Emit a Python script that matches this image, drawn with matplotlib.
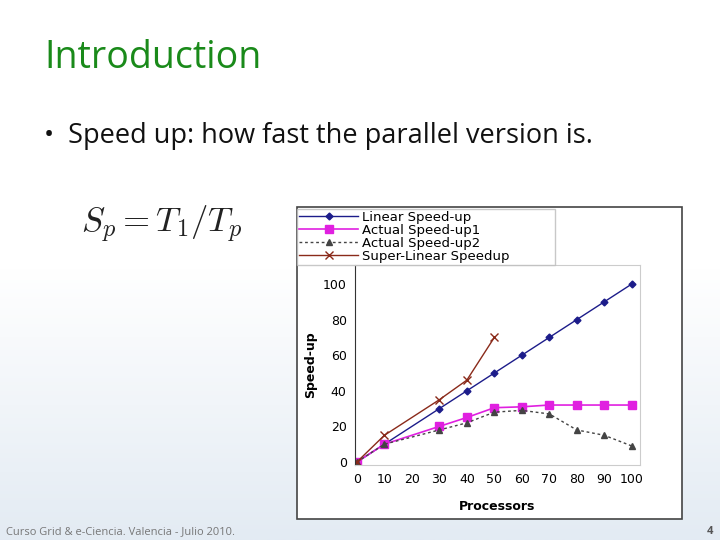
import numpy as np
import matplotlib
matplotlib.use("Agg")
import matplotlib.pyplot as plt
from matplotlib.patches import Rectangle
from matplotlib.colors import LinearSegmentedColormap

tick_labels = ["0", "10", "20", "30", "40", "50", "60", "70", "80", "90", "100"]
pos = [0, 1, 3, 4, 5, 6, 7, 8, 9, 10]
linear = [0, 10, 30, 40, 50, 60, 70, 80, 90, 100]
actual1 = [0, 10, 20, 25, 30.5, 31, 32, 32, 32, 32]
actual2 = [0, 10, 18, 22, 28, 29, 27, 18, 15, 9]
super_pos = [0, 1, 3, 4, 5]
super_lin = [0, 15, 35, 46, 70]

plt.rcParams['mathtext.fontset'] = 'cm'
fig = plt.figure(figsize=(7.2, 5.4), dpi=100)
bg = fig.add_axes([0, 0, 1, 1], zorder=-10)
grad = np.linspace(0, 1, 256)[:, None]
cmap = LinearSegmentedColormap.from_list("g", ["#ffffff", "#ffffff", "#e3ebf3"])
bg.imshow(grad, aspect="auto", cmap=cmap, extent=[0, 1, 0, 1], origin="upper")
bg.set_xlim(0, 1); bg.set_ylim(0, 1); bg.axis("off")

fig.text(0.061, 0.893, "Introduction", fontsize=27, color="#1a8a1a", family="Open Sans", va="center")
fig.text(0.061, 0.748, "•  Speed up: how fast the parallel version is.", fontsize=19.5, color="#111111", family="Open Sans", va="center")
fig.text(0.113, 0.585, r"$S_p = T_1/T_p$", fontsize=25, color="#222222", va="center")
fig.text(0.008, 0.015, "Curso Grid & e-Ciencia. Valencia - Julio 2010.", fontsize=8, color="#777777", family="Open Sans", va="center")
fig.text(0.99, 0.015, "4", fontsize=8, color="#555555", family="Open Sans", weight="bold", ha="right", va="center")

bg.add_patch(Rectangle((297/720, 1-519/540), 385/720, 312/540, facecolor="white", edgecolor="#444444", lw=1.2, zorder=1))

ax = fig.add_axes([355/720, 1-465/540, 285/720, 200/540])
ax.plot(pos, linear, color="#1c1c8a", marker="D", ms=3.5, lw=1, label="Linear Speed-up")
ax.plot(pos, actual1, color="#e020e0", marker="s", ms=6, lw=1.2, label="Actual Speed-up1")
ax.plot(pos, actual2, color="#444444", marker="^", ms=5, lw=1, ls=(0, (2, 2)), label="Actual Speed-up2")
ax.plot(super_pos, super_lin, color="#8a2a1a", marker="x", ms=6, lw=1, label="Super-Linear Speedup")
ax.set_xlim(-0.07, 10.3)
ax.set_ylim(-1.7, 110.7)
ax.set_xticks(range(11))
ax.set_xticklabels(tick_labels)
ax.set_yticks([0, 20, 40, 60, 80, 100])
ax.tick_params(labelsize=9, length=0, pad=6)
for s in ["top", "right", "bottom"]:
    ax.spines[s].set_color("#cccccc")
ax.spines["left"].set_color("#333333")
ax.set_xlabel("Processors", fontsize=9, weight="bold", labelpad=10)
ax.set_ylabel("Speed-up", fontsize=9, weight="bold", labelpad=4)
ax.legend(loc="lower left", bbox_to_anchor=(297/720, 1-265/540, 258/720, 58/540), bbox_transform=fig.transFigure,
          mode="expand", fontsize=9.5, frameon=True, fancybox=False, edgecolor="#bbbbbb", borderpad=0.15,
          labelspacing=0.0, handlelength=4.5, handletextpad=0.3, borderaxespad=0)

fig.savefig("out.png", dpi=100)
